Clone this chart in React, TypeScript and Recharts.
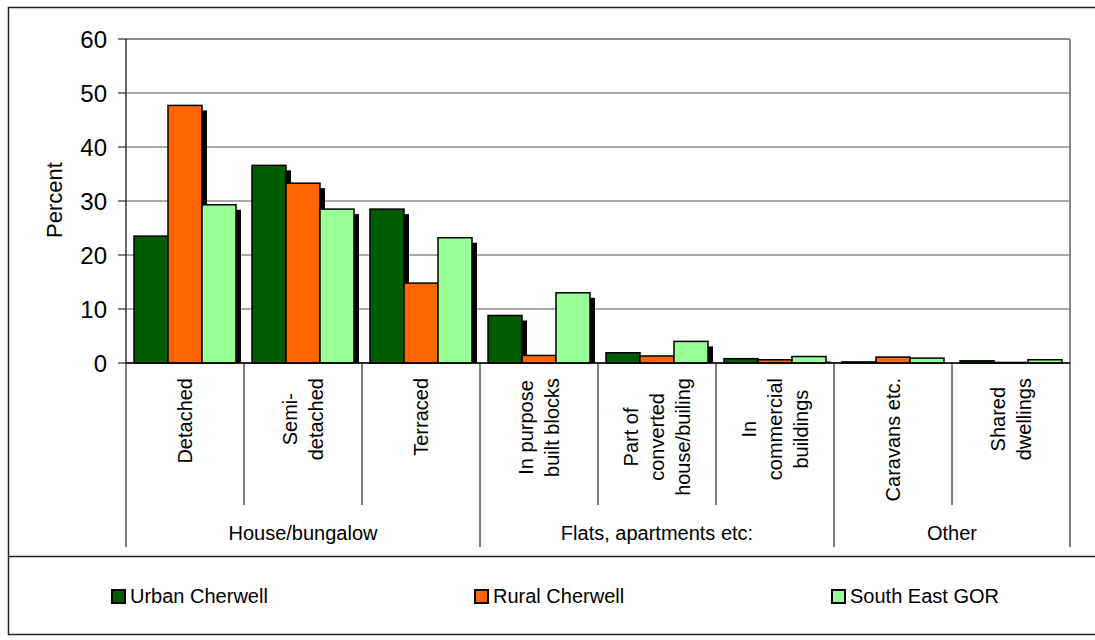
import React from "react";
import { BarChart, Bar, XAxis, YAxis, CartesianGrid, Customized } from "recharts";

const categories = [
  "Detached",
  "Semi-detached",
  "Terraced",
  "In purpose built blocks",
  "Part of converted house/builing",
  "In commercial buildings",
  "Caravans etc.",
  "Shared dwellings",
];

const categoryLines = [
  ["Detached"],
  ["Semi-", "detached"],
  ["Terraced"],
  ["In purpose", "built blocks"],
  ["Part of", "converted", "house/builing"],
  ["In", "commercial", "buildings"],
  ["Caravans etc."],
  ["Shared", "dwellings"],
];

const groups = [
  { name: "House/bungalow", span: 3 },
  { name: "Flats, apartments etc:", span: 3 },
  { name: "Other", span: 2 },
];

const urbanCherwell = [23.5, 36.6, 28.5, 8.8, 1.9, 0.8, 0.2, 0.4];
const ruralCherwell = [47.7, 33.3, 14.8, 1.4, 1.3, 0.6, 1.1, 0.1];
const southEastGOR = [29.3, 28.5, 23.2, 13.0, 4.0, 1.2, 0.9, 0.6];

const yTicks = [0, 10, 20, 30, 40, 50, 60];

const series = [
  { key: "urban", name: "Urban Cherwell", color: "#005C00" },
  { key: "rural", name: "Rural Cherwell", color: "#FF6600" },
  { key: "se", name: "South East GOR", color: "#99FF99" },
];

const data = categories.map((name, i) => ({
  name,
  urban: urbanCherwell[i],
  rural: ruralCherwell[i],
  se: southEastGOR[i],
}));

const W = 1095;
const H = 640;
const PLOT_LEFT = 126;
const PLOT_RIGHT = 1070;
const PLOT_TOP = 39;
const PLOT_BOTTOM = 363;
const XAXIS_H = 184;
const BAND = (PLOT_RIGHT - PLOT_LEFT) / categories.length;
const FONT = "'Liberation Sans', Arial, sans-serif";

let ctx: CanvasRenderingContext2D | null = null;
function textWidth(t: string, size: number) {
  if (!ctx) {
    const c = document.createElement("canvas");
    ctx = c.getContext("2d");
  }
  if (!ctx) return t.length * size * 0.5;
  ctx.font = `${size}px 'Liberation Sans', Arial, sans-serif`;
  return ctx.measureText(t).width;
}

// group starts by category index
const groupStart: Record<number, { name: string; span: number }> = {};
let acc = 0;
groups.forEach((g) => {
  groupStart[acc] = g;
  acc += g.span;
});

const ShadowBar = (props: any) => {
  const { x, y, width, height, fill } = props;
  if (width == null || height == null) return null;
  const sh = Math.max(0, height - 5);
  return (
    <g>
      {sh > 0 && <rect x={x + 5} y={y + 5} width={width} height={sh} fill="#000" />}
      <rect x={x} y={y} width={width} height={Math.max(height, 0.5)} fill={fill} stroke="#000" strokeWidth={1.5} />
    </g>
  );
};

const CategoryTick = (props: any) => {
  const { x, index } = props;
  const lines = categoryLines[index] || [];
  const maxW = Math.max(...lines.map((l) => textWidth(l, 20)));
  const cy = 378 + maxW / 2;
  const g = groupStart[index];
  const left = x - BAND / 2;
  const isLast = index === categories.length - 1;
  return (
    <g>
      <line x1={left} y1={PLOT_BOTTOM} x2={left} y2={g ? 547 : 505} stroke="#000" strokeWidth={1} />
      {isLast && (
        <line x1={x + BAND / 2} y1={PLOT_BOTTOM} x2={x + BAND / 2} y2={547} stroke="#000" strokeWidth={1} />
      )}
      {lines.map((l, i) => {
        const lx = x + (i - (lines.length - 1) / 2) * 26;
        return (
          <text
            key={i}
            x={lx}
            y={cy}
            transform={`rotate(-90, ${lx}, ${cy})`}
            textAnchor="middle"
            dominantBaseline="central"
            fontSize={20}
            fontFamily={FONT}
            fill="#000"
          >
            {l}
          </text>
        );
      })}
      {g && (
        <text
          x={left + (g.span * BAND) / 2}
          y={540}
          textAnchor="middle"
          fontSize={20}
          fontFamily={FONT}
          fill="#000"
        >
          {g.name}
        </text>
      )}
    </g>
  );
};

const Frame = () => (
  <g>
    <line x1={PLOT_LEFT} y1={PLOT_TOP} x2={PLOT_RIGHT} y2={PLOT_TOP} stroke="#888" strokeWidth={2} />
    <line x1={PLOT_RIGHT} y1={PLOT_TOP} x2={PLOT_RIGHT} y2={PLOT_BOTTOM} stroke="#888" strokeWidth={2} />
    <rect x={8.5} y={7.5} width={W + 20} height={627} fill="none" stroke="#222" strokeWidth={1.5} />
    <line x1={8} y1={556.5} x2={W} y2={556.5} stroke="#222" strokeWidth={1.5} />
    <text
      x={54}
      y={200}
      transform="rotate(-90, 54, 200)"
      textAnchor="middle"
      dominantBaseline="central"
      fontSize={22}
      fontFamily={FONT}
      fill="#000"
    >
      Percent
    </text>
  </g>
);

const legendLeft = [111, 474, 831];

export default function App() {
  return (
    <div style={{ position: "absolute", left: 0, top: 0, width: W, height: H, background: "#fff", fontFamily: FONT }}>
      <BarChart
        width={W}
        height={H}
        data={data}
        margin={{ top: PLOT_TOP, right: W - PLOT_RIGHT, left: 0, bottom: H - PLOT_BOTTOM - XAXIS_H }}
        barGap={0}
        barCategoryGap={8}
      >
        <CartesianGrid vertical={false} stroke="#555" strokeWidth={1} />
        <XAxis
          dataKey="name"
          interval={0}
          height={XAXIS_H}
          tick={<CategoryTick />}
          tickLine={false}
          axisLine={{ stroke: "#000", strokeWidth: 1.5 }}
        />
        <YAxis
          width={PLOT_LEFT}
          domain={[0, 60]}
          ticks={yTicks}
          interval={0}
          tickSize={8}
          tickMargin={11}
          tick={{ fontSize: 24, fontFamily: FONT, fill: "#000" }}
          tickLine={{ stroke: "#000" }}
          axisLine={{ stroke: "#333", strokeWidth: 1.5 }}
        />
        {series.map((s) => (
          <Bar
            key={s.key}
            dataKey={s.key}
            name={s.name}
            fill={s.color}
            shape={<ShadowBar />}
            isAnimationActive={false}
          />
        ))}
        <Customized component={Frame} />
      </BarChart>
      {series.map((s, i) => (
        <div
          key={s.key}
          style={{
            position: "absolute",
            left: legendLeft[i],
            top: 586,
            height: 20,
            display: "flex",
            alignItems: "center",
            fontSize: 20,
            whiteSpace: "nowrap",
          }}
        >
          <span
            style={{
              display: "inline-block",
              width: 11,
              height: 11,
              background: s.color,
              border: "2px solid #000",
              marginRight: 4,
            }}
          />
          {s.name}
        </div>
      ))}
    </div>
  );
}
